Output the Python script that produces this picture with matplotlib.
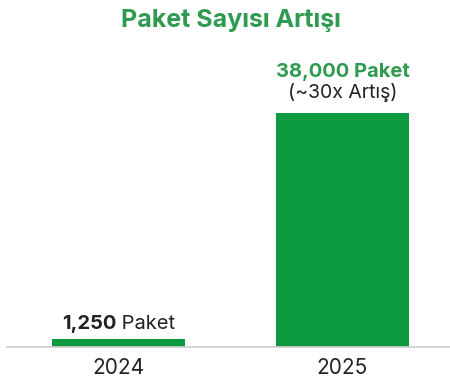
import matplotlib
matplotlib.use("Agg")
import matplotlib.pyplot as plt

years = ["2024", "2025"]
packages = [1250, 38000]
value_labels = ["1,250", "38,000"]
unit = "Paket"
note_2025 = "(~30x Artış)"
title = "Paket Sayısı Artışı"

plt.rcParams['font.family'] = ['Inter', 'DejaVu Sans']

GREEN_BAR = "#0b9a40"
GREEN_TXT = "#2f9a50"
DARK = "#222222"

W, H = 450, 381
fig = plt.figure(figsize=(W/100, H/100), dpi=100)
ax = fig.add_axes([7/W, (H-346.5)/H, 1-7/W, (346.5-113)/H])

x = list(range(len(years)))
ax.bar(x, packages, width=0.594, color=GREEN_BAR, zorder=2)
ax.set_xlim(-0.498, 1.48)
ax.set_ylim(0, max(packages))

for s in ["top", "right", "left"]:
    ax.spines[s].set_visible(False)
ax.spines["bottom"].set_color("#cfcfcf")
ax.spines["bottom"].set_linewidth(1.3)
ax.set_yticks([])
ax.set_xticks(x)
ax.set_xticklabels(years, fontsize=15, color=DARK)
ax.tick_params(axis="x", length=0, pad=8)

# 2025 labels
ax.annotate(f"{value_labels[1]} {unit}", xy=(x[1], packages[1]), xytext=(0, 36),
            textcoords="offset pixels", ha="center", va="baseline",
            fontsize=14.5, fontweight="bold", color=GREEN_TXT)
ax.annotate(note_2025, xy=(x[1], packages[1]), xytext=(0, 15),
            textcoords="offset pixels", ha="center", va="baseline",
            fontsize=14, color=DARK)

# 2024 label: bold number + regular unit, centered over bar
t1 = ax.annotate(value_labels[0], xy=(x[0], packages[0]), xytext=(0, 10),
                 textcoords="offset pixels", ha="left", va="baseline",
                 fontsize=14.5, fontweight="bold", color=DARK)
t2 = ax.annotate(" " + unit, xy=(1, 0), xycoords=t1, ha="left", va="bottom",
                 fontsize=14.5, color=DARK)
fig.canvas.draw()
r = fig.canvas.get_renderer()
w1 = t1.get_window_extent(r).width
w2 = t2.get_window_extent(r).width
t1.set_position((-(w1 + w2) / 2, 10))

fig.text(231/W, 1 - 26.5/H, title, ha="center", va="baseline",
         fontsize=18, fontweight="bold", color=GREEN_TXT)

fig.savefig("out.png", dpi=100, facecolor="white")
